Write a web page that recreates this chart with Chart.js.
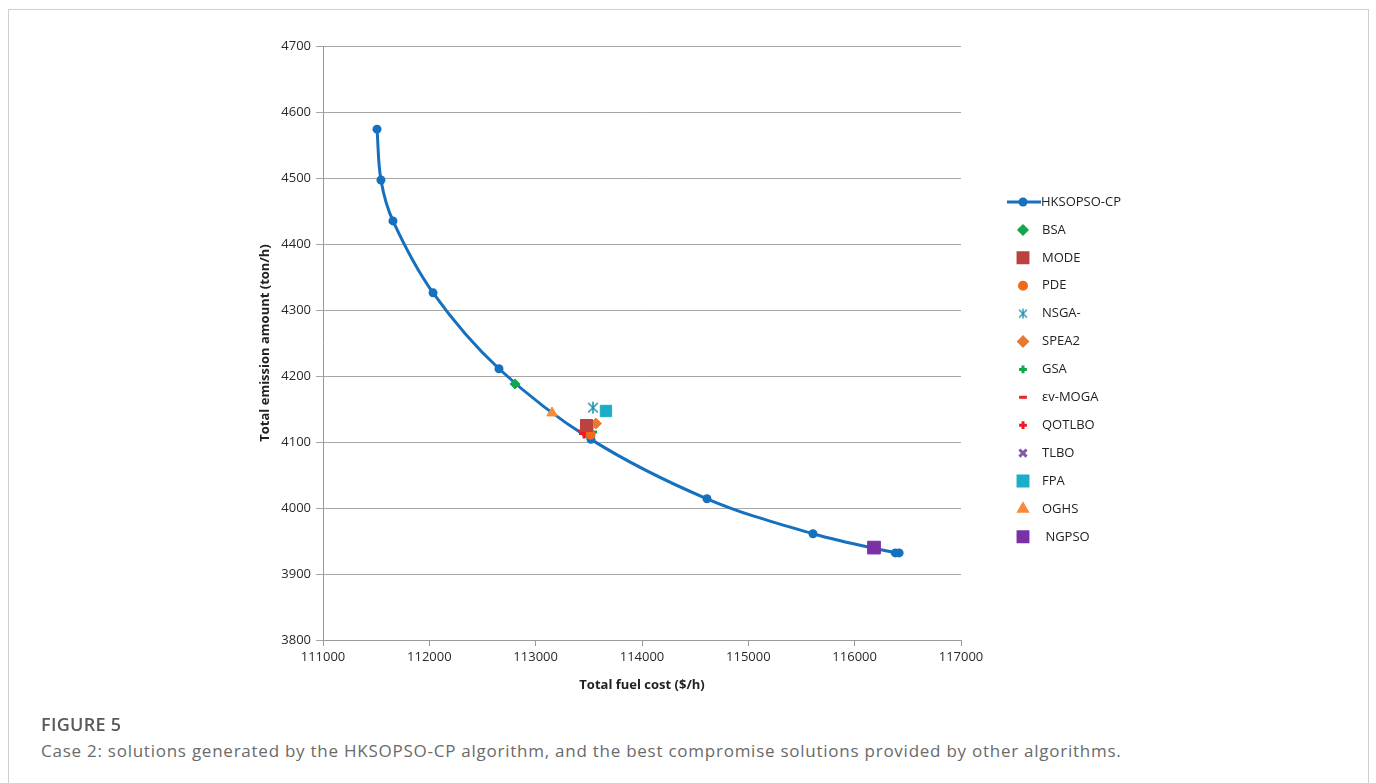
<!DOCTYPE html>
<html>
<head>
<meta charset="utf-8">
<script src="https://cdn.jsdelivr.net/npm/chart.js@4"></script>
<style>
  html, body { margin: 0; padding: 0; background: #fff; }
  body { width: 1376px; height: 783px; position: relative; overflow: hidden; font-family: "Open Sans", "Noto Sans", sans-serif; }
  #frame { position: absolute; left: 8px; top: 9px; width: 1361px; height: 800px; border: 1px solid #cfcfcf; box-sizing: border-box; }
  #wrap { position: absolute; left: 0; top: 0; width: 1376px; height: 720px; }
  #fig { position: absolute; left: 41px; top: 712px; font-size: 18px; line-height: 24px; font-weight: 600; color: #5a5a5a; letter-spacing: 0.3px; }
  #cap { position: absolute; left: 41px; top: 739px; font-size: 17px; line-height: 23px; color: #6a6a6a; white-space: nowrap; letter-spacing: 0.75px; }
</style>
</head>
<body>
<div id="frame"></div>
<div id="wrap"><canvas id="c" width="1376" height="720"></canvas></div>
<div id="fig">FIGURE 5</div>
<div id="cap">Case 2: solutions generated by the HKSOPSO-CP algorithm, and the best compromise solutions provided by other algorithms.</div>
<script>
// ---- data ----
const curveName = 'HKSOPSO-CP';
const curveCost = [111508, 111545, 111658, 112035, 112655, 113520, 114611, 115608, 116382, 116418];
const curveEmission = [4574, 4497, 4435, 4326, 4211, 4104, 4014, 3961, 3932, 3932];

const algoNames = ['BSA', 'MODE', 'PDE', 'NSGA-', 'SPEA2', 'GSA', '\u03b5v-MOGA', 'QOTLBO', 'TLBO', 'FPA', 'OGHS', ' NGPSO'];
const algoCost = [112806, 113478, 113516, 113539, 113566, 113530, 113445, 113455, 113492, 113661, 113154, 116182];
const algoEmission = [4188, 4125, 4111, 4152, 4128, 4115, 4117, 4113, 4115, 4147, 4144, 3940];

const xTicks = [111000, 112000, 113000, 114000, 115000, 116000, 117000];
const yTicks = [3800, 3900, 4000, 4100, 4200, 4300, 4400, 4500, 4600, 4700];

// ---- styles ----
function asterisk(color, size, lw) {
  const cv = document.createElement('canvas');
  cv.width = size; cv.height = size;
  const g = cv.getContext('2d');
  g.strokeStyle = color; g.lineWidth = lw;
  const c = size / 2, r = size / 2 - 1;
  g.beginPath();
  g.moveTo(c, c - r); g.lineTo(c, c + r);
  g.moveTo(c - r * 0.8, c - r * 0.8); g.lineTo(c + r * 0.8, c + r * 0.8);
  g.moveTo(c + r * 0.8, c - r * 0.8); g.lineTo(c - r * 0.8, c + r * 0.8);
  g.stroke();
  return cv;
}
const algoStyles = [
  { c: '#10A84A', s: 'rectRot', r: 5, bw: 1 },
  { c: '#BB4240', s: 'rect', r: 8.5, bw: 1 },
  { c: '#F2691C', s: 'circle', r: 4.5, bw: 1 },
  { c: '#2596AE', s: asterisk('#2596AE', 14, 1.6), r: 7, bw: 1, img: true, legendImg: asterisk('#2596AE', 12, 1.4) },
  { c: '#E47B32', s: 'rectRot', r: 5.5, bw: 1 },
  { c: '#11A84A', s: 'cross', r: 5, bw: 3 },
  { c: '#E3262A', s: 'line', r: 5, bw: 2.5 },
  { c: '#F01820', s: 'cross', r: 5, bw: 3 },
  { c: '#8458A8', s: 'crossRot', r: 6.5, bw: 2.5 },
  { c: '#1AADC8', s: 'rect', r: 8, bw: 1 },
  { c: '#F68B3C', s: 'triangle', r: 6, bw: 1 },
  { c: '#7A31A6', s: 'rect', r: 9, bw: 1 }
];
const lineColor = '#1570BE';

const datasets = [{
  label: curveName,
  data: curveCost.map((x, i) => ({ x: x, y: curveEmission[i] })),
  showLine: true,
  borderColor: lineColor,
  backgroundColor: lineColor,
  borderWidth: 3,
  pointRadius: 4.5,
  pointBorderWidth: 0,
  tension: 0.35,
  order: 1
}];
algoNames.forEach((n, i) => {
  const st = algoStyles[i];
  datasets.push({
    label: n,
    data: [{ x: algoCost[i], y: algoEmission[i] }],
    showLine: false,
    pointStyle: st.s,
    pointRadius: st.r,
    borderColor: st.c,
    backgroundColor: st.c,
    pointBorderWidth: st.bw,
    order: 0
  });
});

const legendPlugin = {
  id: 'customLegend',
  afterDraw(chart) {
    const ctx = chart.ctx;
    const x0 = 1023, y0 = 202, dy = 27.9;
    ctx.save();
    ctx.font = '13px "Open Sans"';
    ctx.textBaseline = 'middle';
    ctx.fillStyle = '#222';
    ctx.strokeStyle = lineColor; ctx.lineWidth = 3;
    ctx.beginPath(); ctx.moveTo(1007, y0); ctx.lineTo(1041, y0); ctx.stroke();
    ctx.fillStyle = lineColor;
    ctx.beginPath(); ctx.arc(x0, y0, 4.5, 0, Math.PI * 2); ctx.fill();
    ctx.save();
    ctx.beginPath(); ctx.rect(1040, y0 - 12, 81, 24); ctx.clip();
    ctx.fillStyle = '#222';
    ctx.fillText(curveName, 1041, y0);
    ctx.restore();
    algoNames.forEach((n, i) => {
      const st = algoStyles[i];
      const y = y0 + dy * (i + 1);
      ctx.fillStyle = st.c; ctx.strokeStyle = st.c;
      if (st.img) {
        ctx.drawImage(st.legendImg, x0 - 6, y - 6);
      } else {
        let r = st.r * 0.78;
        if (st.s === 'rect') r = 7;
        Chart.helpers.drawPoint(ctx, { pointStyle: st.s, radius: r, borderWidth: st.bw, rotation: 0 }, x0, y);
        ctx.fill();
      }
      ctx.fillStyle = '#222';
      ctx.fillText(n, 1042, y);
    });
    ctx.restore();
  }
};

new Chart(document.getElementById('c'), {
  type: 'scatter',
  data: { datasets: datasets },
  options: {
    responsive: false,
    animation: false,
    events: [],
    layout: { padding: { left: 257, right: 415, top: 46, bottom: 20 } },
    plugins: { legend: { display: false }, tooltip: { enabled: false } },
    scales: {
      x: {
        type: 'linear',
        min: xTicks[0], max: xTicks[xTicks.length - 1],
        afterBuildTicks: (s) => { s.ticks = xTicks.map(v => ({ value: v })); },
        afterFit: (s) => { s.height = 60; },
        grid: { drawOnChartArea: false, drawTicks: true, tickLength: 6, color: '#9a9a9a' },
        border: { color: '#9a9a9a', width: 1 },
        ticks: { color: '#2a2a2a', font: { family: 'Open Sans', size: 13 }, padding: 3, maxRotation: 0, callback: v => String(v) },
        title: { display: true, text: 'Total fuel cost ($/h)', color: '#222', font: { family: 'Open Sans', size: 13, weight: 'bold' }, padding: { top: 4, bottom: 7 } }
      },
      y: {
        type: 'linear',
        min: yTicks[0], max: yTicks[yTicks.length - 1],
        afterBuildTicks: (s) => { s.ticks = yTicks.map(v => ({ value: v })); },
        afterFit: (s) => { s.width = 66; },
        grid: { drawOnChartArea: true, drawTicks: true, tickLength: 7, color: '#a6a6a6' },
        border: { color: '#9a9a9a', width: 1 },
        ticks: { color: '#2a2a2a', font: { family: 'Open Sans', size: 13 }, padding: 5, callback: v => String(v) },
        title: { display: true, text: 'Total emission amount (ton/h)', color: '#222', font: { family: 'Open Sans', size: 13, weight: 'bold' }, padding: { top: 0, bottom: 0 } }
      }
    }
  },
  plugins: [legendPlugin]
});
</script>
</body>
</html>
